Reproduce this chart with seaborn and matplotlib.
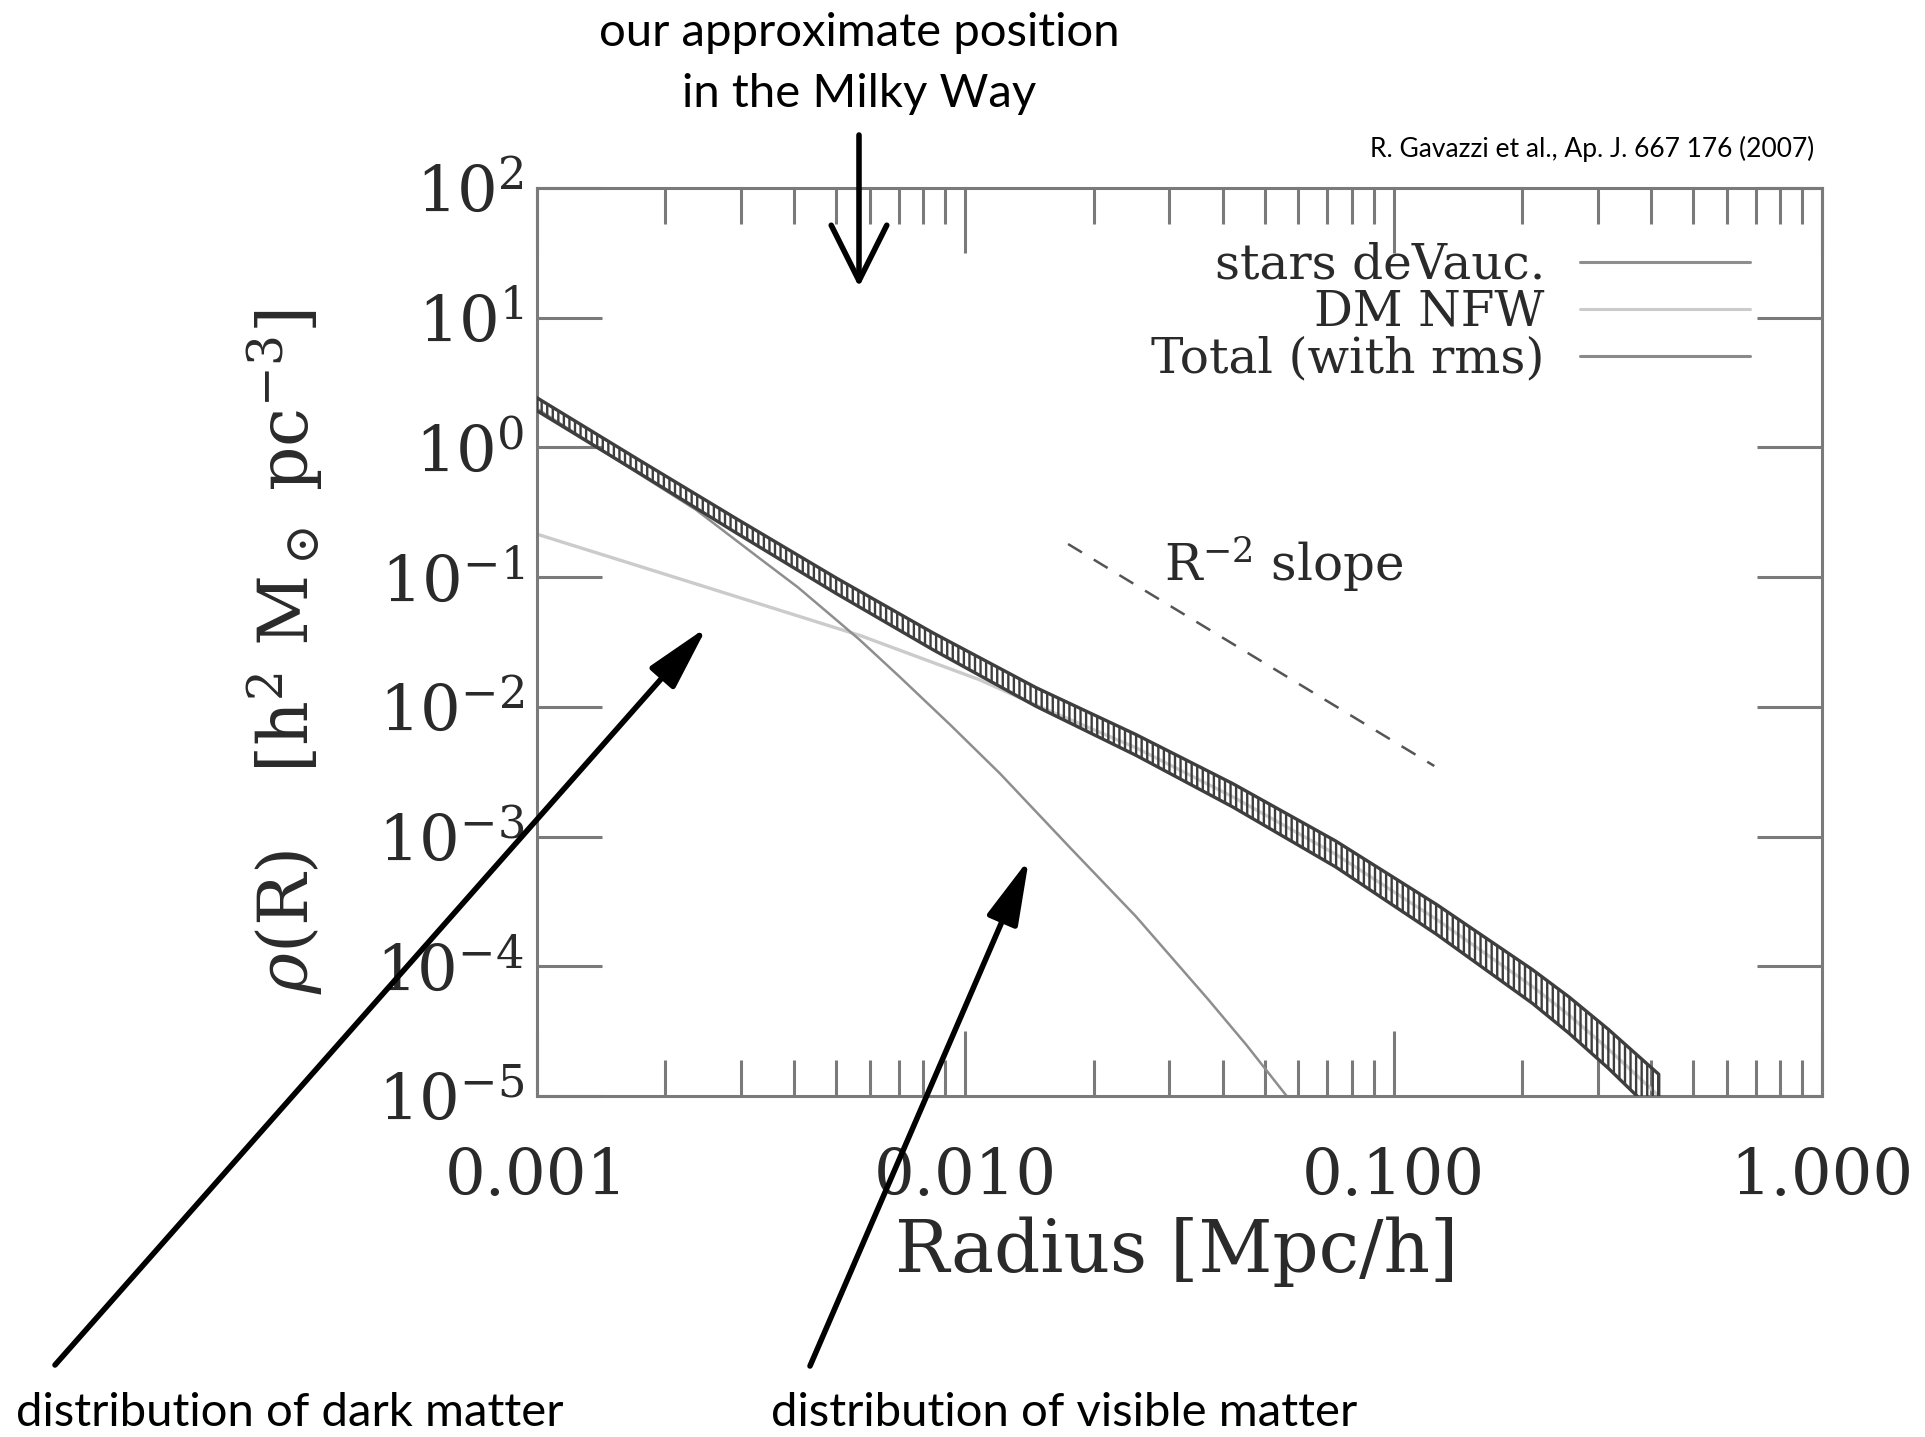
import numpy as np
import matplotlib
matplotlib.use("Agg")
import matplotlib.pyplot as plt
import seaborn as sns
from matplotlib.lines import Line2D
from matplotlib.ticker import LogLocator, FixedLocator, NullLocator, NullFormatter

# ---------------- data ----------------
stars_radius = [0.001, 0.001516, 0.002358, 0.003322, 0.004076, 0.005002,
                0.005671, 0.007047, 0.00923, 0.01207, 0.01752, 0.02506,
                0.03683, 0.04530, 0.05632]
stars_density = [2.0, 0.830, 0.330, 0.139, 0.0834, 0.0470,
                 0.0330, 0.01698, 0.00729, 0.00306, 8.32e-4, 2.42e-4,
                 5.62e-5, 2.49e-5, 1.0e-5]

dm_radius = [0.001, 0.00244, 0.00569, 0.00794, 0.0108, 0.01466, 0.02502,
             0.04212, 0.07331, 0.1260, 0.2108, 0.2569, 0.3173, 0.4159]
dm_density = [0.215, 0.0855, 0.0355, 0.0236, 0.0162, 0.0103, 0.00485,
              0.00203, 7.3e-4, 2.3e-4, 7.0e-5, 4.2e-5, 2.3e-5, 1.0e-5]

total_radius = [0.001, 0.001729, 0.002931, 0.005002, 0.008422, 0.01466,
                0.02502, 0.04212, 0.07331, 0.1260, 0.2108, 0.2569, 0.3173,
                0.4159]
total_density = [2.162, 0.718, 0.248, 0.0860, 0.0320, 0.0119,
                 0.00510, 0.002084, 7.34e-4, 2.30e-4, 7.0e-5, 4.20e-5,
                 2.31e-5, 1.006e-5]
total_rms_dex = [0.05, 0.05, 0.055, 0.06, 0.065, 0.072,
                 0.08, 0.09, 0.10, 0.115, 0.13, 0.14, 0.15, 0.165]

slope_radius = [0.0174, 0.1245]
slope_density = [0.180, 0.0035]

x_ticks = [0.001, 0.01, 0.1, 1.0]
x_tick_labels = ["0.001", "0.010", "0.100", "1.000"]
y_exponents = [-5, -4, -3, -2, -1, 0, 1, 2]

legend_labels = ["stars deVauc.", "DM NFW", "Total (with rms)"]

# ---------------- style ----------------
sns.set_theme(style="white")
plt.rcParams["font.family"] = ["DejaVu Serif"]
plt.rcParams["mathtext.fontset"] = "dejavuserif"
plt.rcParams["hatch.linewidth"] = 1.7

TXT = "#2a2a2a"
AX = "#7a7a7a"
C_STARS = "#8e8e8e"
C_DM = "#cbcbcb"
C_TOTAL = "#3e3e3e"

W, H = 1925, 1437
fig = plt.figure(figsize=(W / 100, H / 100), dpi=100)
fig.patch.set_facecolor("white")
ax = fig.add_axes([536.5 / W, 1 - 1096 / H, 1285.5 / W, 908 / H])
ax.set_xscale("log")
ax.set_yscale("log")

# stars and dark matter curves
sns.lineplot(x=dm_radius, y=dm_density, ax=ax, color=C_DM, linewidth=2.4,
             sort=False, estimator=None)
sns.lineplot(x=stars_radius, y=stars_density, ax=ax, color=C_STARS,
             linewidth=1.8, sort=False, estimator=None)

# total with rms band
tr = np.array(total_radius)
td = np.array(total_density)
te = 10.0 ** np.array(total_rms_dex)
ax.fill_between(tr, td / te, td * te, facecolor="none", edgecolor=C_TOTAL,
                hatch="|||", linewidth=2.4, zorder=3)

# R^-2 slope guide
sns.lineplot(x=slope_radius, y=slope_density, ax=ax, color="#555555",
             linewidth=1.8, linestyle=(0, (6.5, 5.5)), sort=False, estimator=None)
ax.text(0.0291, 0.125, r"R$^{-2}$ slope", fontsize=36, color=TXT,
        ha="left", va="center")

ax.set_xlim(1e-3, 1.0)
ax.set_ylim(1e-5, 1e2)

ax.xaxis.set_major_locator(FixedLocator(x_ticks))
ax.set_xticklabels(x_tick_labels)
ax.xaxis.set_minor_locator(LogLocator(base=10, subs=np.arange(2, 10), numticks=30))
ax.xaxis.set_minor_formatter(NullFormatter())
ax.yaxis.set_major_locator(FixedLocator([10.0 ** k for k in y_exponents]))
ax.set_yticklabels([f"$10^{{{k}}}$" for k in y_exponents])
ax.yaxis.set_minor_locator(NullLocator())

ax.tick_params(which="both", direction="in", top=True, right=True,
               bottom=True, left=True, color=AX, width=2.2)
ax.tick_params(which="major", length=47)
ax.tick_params(which="minor", length=26)
ax.tick_params(axis="x", which="major", pad=37, labelsize=46, labelcolor=TXT)
ax.tick_params(axis="y", which="major", pad=9, labelsize=46, labelcolor=TXT)
for s in ax.spines.values():
    s.set_color(AX)
    s.set_linewidth(2.2)
ax.grid(False)

ax.set_xlabel("Radius [Mpc/h]", fontsize=52, color=TXT, va="center")
ax.xaxis.set_label_coords(0.498, -0.172)
ax.set_ylabel(r"$\rho$(R)$\;\;\;\;$[h$^2$ M$_\odot$ pc$^{-3}$]",
              fontsize=50, color=TXT, va="center")
ax.yaxis.set_label_coords(-0.1956, 0.489)

# legend (text left, line right)
handles = [Line2D([], [], color=C_STARS, lw=2.2),
           Line2D([], [], color=C_DM, lw=2.2),
           Line2D([], [], color="#8a8a8a", lw=2.2)]
leg = ax.legend(handles, legend_labels, loc="upper right",
                bbox_to_anchor=(0.944, 0.941), frameon=False, fontsize=35,
                markerfirst=False, handlelength=3.5, handletextpad=0.72,
                labelspacing=0.0, borderpad=0, borderaxespad=0)
for t in leg.get_texts():
    t.set_color(TXT)

# ---------------- annotations ----------------
SANS = ["Lato", "DejaVu Sans"]


def fig_text(x, y, s, size, ha="center", va="baseline"):
    fig.text(x / W, 1 - y / H, s, fontsize=size, family=SANS, color="black",
             ha=ha, va=va)


fig_text(859, 46, "our approximate position", 34)
fig_text(859, 107, "in the Milky Way", 34)
fig_text(1814, 157, "R. Gavazzi et al., Ap. J. 667 176 (2007)", 19, ha="right")
fig_text(290, 1426, "distribution of dark matter", 34)
fig_text(1064, 1426, "distribution of visible matter", 34)


def arrow(x0, y0, x1, y1, style):
    ax.annotate("", xy=(x1, H - y1), xycoords="figure pixels",
                xytext=(x0, H - y0), textcoords="figure pixels",
                annotation_clip=False,
                arrowprops=dict(arrowstyle=style, color="black", lw=4.0,
                                mutation_scale=40, shrinkA=0, shrinkB=0))


arrow(859, 135, 859, 287, "->,head_length=1.0,head_width=0.5")
arrow(55, 1365, 707, 627, "-|>,head_length=1.0,head_width=0.25")
arrow(810, 1366, 1029, 859, "-|>,head_length=1.0,head_width=0.25")

fig.savefig("out.png", dpi=100, facecolor="white")
